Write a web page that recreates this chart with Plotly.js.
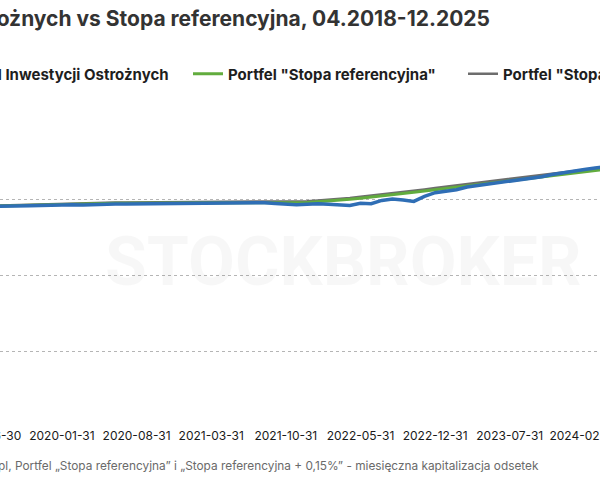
<!DOCTYPE html>
<html>
<head>
<meta charset="utf-8">
<script src="https://cdn.plot.ly/plotly-3.0.1.min.js"></script>
<style>
  html, body { margin: 0; padding: 0; width: 600px; height: 480px; overflow: hidden; background: #fff; }
  #chart { position: absolute; left: -300px; top: 0; width: 1200px; height: 480px; }
</style>
</head>
<body>
<div id="chart"></div>
<script>
// ---------- DATA ----------
const months = [
  "2018-04-30","2018-05-31","2018-06-30","2018-07-31","2018-08-31","2018-09-30","2018-10-31","2018-11-30","2018-12-31",
  "2019-01-31","2019-02-28","2019-03-31","2019-04-30","2019-05-31","2019-06-30","2019-07-31","2019-08-31","2019-09-30","2019-10-31","2019-11-30","2019-12-31",
  "2020-01-31","2020-02-29","2020-03-31","2020-04-30","2020-05-31","2020-06-30","2020-07-31","2020-08-31","2020-09-30","2020-10-31","2020-11-30","2020-12-31",
  "2021-01-31","2021-02-28","2021-03-31","2021-04-30","2021-05-31","2021-06-30","2021-07-31","2021-08-31","2021-09-30","2021-10-31","2021-11-30","2021-12-31",
  "2022-01-31","2022-02-28","2022-03-31","2022-04-30","2022-05-31","2022-06-30","2022-07-31","2022-08-31","2022-09-30","2022-10-31","2022-11-30","2022-12-31",
  "2023-01-31","2023-02-28","2023-03-31","2023-04-30","2023-05-31","2023-06-30","2023-07-31","2023-08-31","2023-09-30","2023-10-31","2023-11-30","2023-12-31",
  "2024-01-31","2024-02-29","2024-03-31","2024-04-30","2024-05-31","2024-06-30","2024-07-31","2024-08-31","2024-09-30","2024-10-31","2024-11-30","2024-12-31",
  "2025-01-31","2025-02-28","2025-03-31","2025-04-30","2025-05-31","2025-06-30","2025-07-31","2025-08-31","2025-09-30","2025-10-31","2025-11-30","2025-12-31"
];

const fundIO = [
  10000,10005,10015,10030,10035,10050,10060,10070,10080,10095,10110,10120,10130,10145,10155,10165,10175,10185,10195,10205,10220,
  10230,10240,10220,10245,10255,10265,10270,10275,10280,10285,10285,10290,10290,10295,10295,10300,10300,10305,10310,10330,10295,
  10260,10240,10260,10285,10255,10225,10205,10305,10285,10435,10505,10455,10390,10620,10790,10860,10930,11050,11120,11170,11240,
  11300,11370,11430,11530,11630,11720,11780,11860,11930,11990,12040,12110,12170,12230,12290,12360,12400,12460,12530,12590,12650,
  12720,12790,12850,12910,12970,13020,13080,13130,13180
];

const refRate = [
  10000,10013,10025,10038,10050,10063,10075,10088,10101,10113,10126,10139,10151,10164,10177,10190,10202,10215,10228,10241,10254,
  10266,10279,10290,10296,10299,10300,10301,10302,10303,10304,10304,10305,10306,10307,10308,10309,10310,10311,10312,10313,10313,
  10314,10320,10340,10370,10400,10440,10485,10535,10585,10640,10695,10750,10810,10870,10930,10990,11050,11110,11170,11230,11295,
  11360,11425,11485,11540,11595,11650,11705,11760,11815,11870,11925,11980,12040,12095,12155,12210,12270,12330,12390,12450,12510,
  12570,12625,12680,12735,12785,12835,12885,12930,12975
];

const refRatePlus = [
  10000,10014,10028,10042,10055,10070,10083,10097,10112,10125,10139,10154,10167,10181,10196,10210,10224,10238,10252,10267,10281,
  10294,10309,10321,10328,10333,10335,10337,10340,10342,10345,10346,10348,10351,10353,10355,10358,10360,10362,10365,10367,10368,
  10371,10378,10399,10431,10462,10503,10550,10601,10653,10709,10765,10822,10883,10944,11006,11067,11128,11190,11251,11312,11379,
  11445,11511,11573,11629,11685,11742,11798,11855,11911,11967,12024,12080,12141,12198,12259,12315,12377,12438,12500,12561,12622,
  12683,12740,12796,12852,12904,12955,13007,13053,13100
];

const seriesNames = [
  'Portfel Inwestycji Ostrożnych',
  'Portfel "Stopa referencyjna"',
  'Portfel "Stopa referencyjna + 0,15%"'
];
const yTickVals = [3500, 7000, 10500];
const yTickText = ['3 500', '7 000', '10 500'];
const xTickVals = months.filter((m, i) => i % 7 === 0);

const titleText = 'Portfel Inwestycji Ostrożnych vs Stopa referencyjna, 04.2018-12.2025';
const sourceText = 'Źródło: stockbroker.pl, Portfel „Stopa referencyjna” i „Stopa referencyjna + 0,15%” - miesięczna kapitalizacja odsetek';

// ---------- LAYOUT GEOMETRY ----------
const W = 1200, H = 480, OFFSET = 300;
const M = { l: 138, r: 81, t: 138, b: 53 };
const PW = W - M.l - M.r, PH = H - M.t - M.b;
const px = (pageX) => (pageX + OFFSET - M.l) / PW;
const py = (pageY) => (H - M.b - pageY) / PH;

const FONT = 'Inter, Roboto, "Noto Sans", sans-serif';

const traces = [
  { x: months, y: refRatePlus, name: seriesNames[2], type: 'scatter', mode: 'lines',
    line: { color: '#6d6d6d', width: 2.5 } },
  { x: months, y: refRate, name: seriesNames[1], type: 'scatter', mode: 'lines',
    line: { color: '#62ac3e', width: 3 } },
  { x: months, y: fundIO, name: seriesNames[0], type: 'scatter', mode: 'lines',
    line: { color: '#2f6eb5', width: 3.5 } }
];

const layout = {
  width: W, height: H,
  margin: M,
  paper_bgcolor: '#ffffff', plot_bgcolor: '#ffffff',
  font: { family: FONT, color: '#222' },
  title: {
    text: titleText,
    font: { family: FONT, size: 21, weight: 700, color: '#333333' },
    xref: 'container', x: (490 + OFFSET) / W, xanchor: 'right',
    yref: 'container', y: 1 - 19 / H, yanchor: 'middle'
  },
  showlegend: true,
  legend: {
    orientation: 'h', traceorder: 'reversed',
    xref: 'container', x: (-87 + OFFSET) / W, xanchor: 'left',
    yref: 'container', y: 1 - 74 / H, yanchor: 'middle',
    entrywidth: 230, entrywidthmode: 'pixels',
    font: { family: FONT, size: 15, weight: 700, color: '#1e1e1e' },
    bgcolor: 'rgba(0,0,0,0)'
  },
  xaxis: {
    type: 'category', range: [0, 92], automargin: false,
    tickvals: xTickVals, ticktext: xTickVals,
    showgrid: false, zeroline: false, showline: false, ticks: '',
    tickfont: { family: FONT, size: 12, color: '#1a1a1a' }
  },
  yaxis: {
    range: [0, 13310], automargin: false,
    tickvals: yTickVals, ticktext: yTickText,
    showgrid: true, gridcolor: '#b5b5b5', gridwidth: 1, griddash: 'dot',
    zeroline: false, showline: false, ticks: '',
    tickfont: { family: FONT, size: 12, color: '#1a1a1a' }
  },
  annotations: [
    { text: 'STOCKBROKER', xref: 'paper', yref: 'paper', x: px(343), y: py(262),
      xanchor: 'center', yanchor: 'middle', showarrow: false,
      font: { family: '"Liberation Sans Narrow", "Roboto", sans-serif', size: 68, weight: 700, color: 'rgba(0,0,0,0.03)' } },
    { text: sourceText, xref: 'paper', yref: 'paper', x: px(541), y: py(465),
      xanchor: 'right', yanchor: 'middle', showarrow: false,
      font: { family: FONT, size: 11.85, color: '#6a6a6a' } }
  ]
};

Plotly.newPlot('chart', traces, layout, { displayModeBar: false, staticPlot: true });
</script>
</body>
</html>
